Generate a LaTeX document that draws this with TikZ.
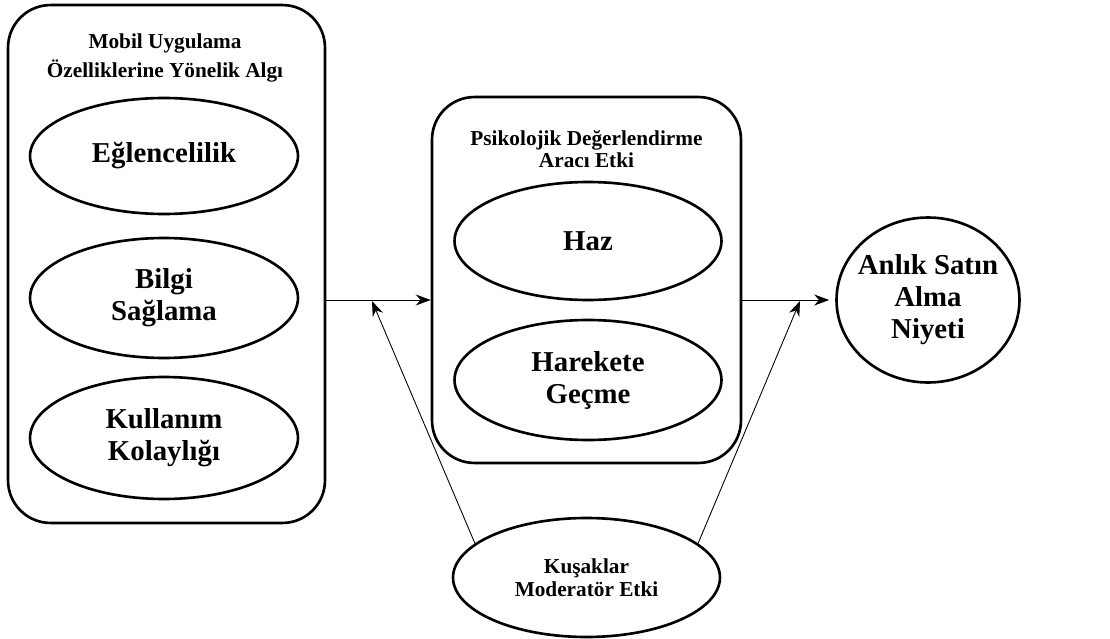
\documentclass[tikz,border=0pt]{standalone}
\usepackage{fontspec}
\setmainfont{Liberation Serif}
\usetikzlibrary{shapes.geometric,arrows.meta}
\begin{document}
\begin{tikzpicture}[x=0.02cm,y=-0.02cm,
    groupbox/.style={draw=black,line width=1.5pt,rounded corners=0.85cm,inner sep=0pt},
    factor/.style={shape=ellipse,draw=black,line width=1.5pt,inner sep=0pt,align=center,
        font=\fontsize{16.4}{18.2}\selectfont\bfseries},
    grouptitle/.style={align=center,font=\fontsize{12.1}{16.4}\selectfont\bfseries},
    link/.style={-{Stealth[length=0.3cm,width=0.22cm]},line width=0.5pt}]
    \useasboundingbox (0,0) rectangle (1110,639);
    \node[groupbox,minimum width=6.34cm,minimum height=10.36cm] (algi) at (166.5,264) {};
    \node[grouptitle] (algititle) at (165,58) {Mobil Uygulama\\Özelliklerine Yönelik Algı};
    \node[factor,minimum width=5.36cm,minimum height=2.32cm] (eglence) at (164,156) {Eğlencelilik};
    \node[factor,minimum width=5.36cm,minimum height=2.4cm] (bilgi) at (164,298) {Bilgi\\Sağlama};
    \node[factor,minimum width=5.36cm,minimum height=2.44cm] (kolay) at (164,438) {Kullanım\\Kolaylığı};
    \node[groupbox,minimum width=6.18cm,minimum height=7.32cm] (arac) at (586.5,280) {};
    \node[grouptitle,font=\fontsize{12.1}{12.6}\selectfont\bfseries] (aractitle) at (586.5,149) {Psikolojik Değerlendirme\\Aracı Etki};
    \node[factor,minimum width=5.34cm,minimum height=2.36cm] (haz) at (588,241) {Haz};
    \node[factor,minimum width=5.34cm,minimum height=2.4cm] (hareket) at (588,380) {Harekete\\Geçme};
    \node[factor,inner xsep=-4pt,minimum width=3.66cm,minimum height=3.3cm] (niyet) at (928,300) {Anlık Satın\\Alma\\Niyeti};
    \node[factor,font=\fontsize{12.1}{13}\selectfont\bfseries,minimum width=5.34cm,minimum height=2.38cm] (kusak) at (586.5,577.5) {Kuşaklar\\Moderatör Etki};
    \coordinate (mod1) at (372,301);
    \coordinate (mod2) at (800,301);
    \draw[link] (algi.east |- niyet) -- (arac.west |- niyet);
    \draw[link,shorten >=0.12cm] (arac.east |- niyet) -- (niyet.west);
    \draw[link] (kusak.163) -- (mod1);
    \draw[link] (kusak.17) -- (mod2);
\end{tikzpicture}
\end{document}
